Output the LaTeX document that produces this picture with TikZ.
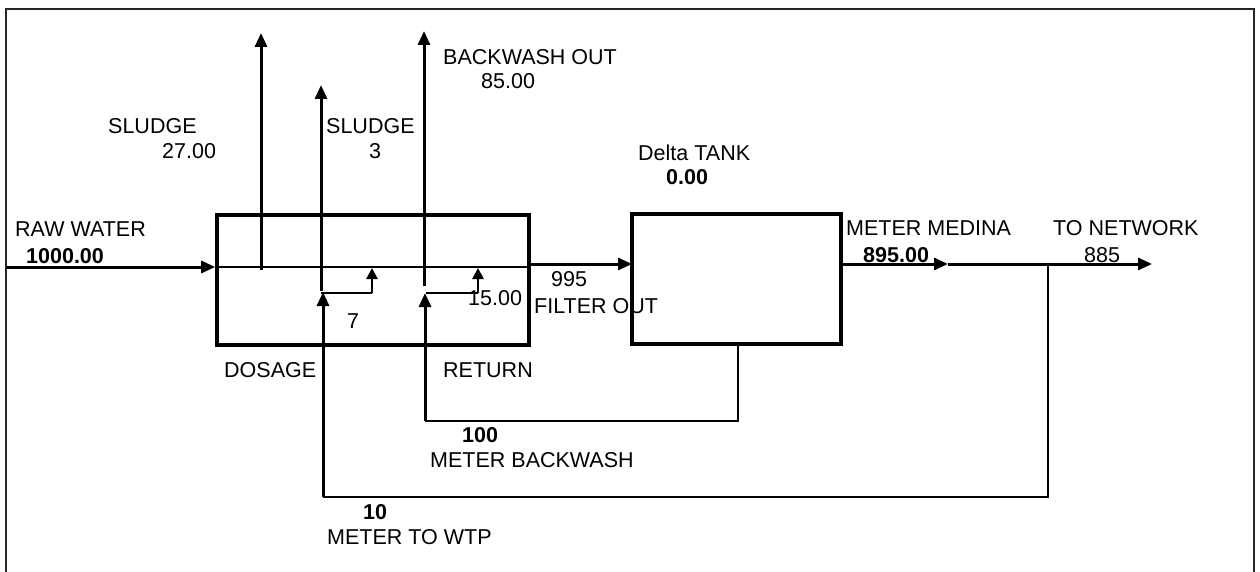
\documentclass[tikz,border=0pt]{standalone}
\usepackage{fontspec}
\setmainfont{Liberation Sans}
\usetikzlibrary{arrows.meta}
\begin{document}
\begin{tikzpicture}[x=1pt,y=-1pt,
  font=\fontsize{21.5}{25}\selectfont,
  lbl/.style={anchor=base west,inner sep=0pt},
  blbl/.style={lbl,font=\fontsize{21.5}{25}\selectfont\bfseries},
  unit/.style={draw,line width=3.6pt,inner sep=0pt},
  flow/.style={line width=3pt,-{Triangle[length=14pt,width=12pt]}},
  thinline/.style={line width=1.6pt},
  small/.style={line width=2.6pt,-{Triangle[length=11pt,width=11pt]}},
  frame/.style={line width=2.2pt,black!85}]
\useasboundingbox (0,0) rectangle (1260,572);
% frame
\draw[frame] (6,572) -- (6,9) -- (1254,9) -- (1254,572);
% units
\node[unit,minimum width=312pt,minimum height=130pt] (b1) at (373,280) {};
\node[unit,minimum width=209pt,minimum height=130pt] (b2) at (736.5,279) {};
% coordinates
\coordinate (rw) at (6,267);
\coordinate (fo1) at (529,264);
\coordinate (fo2) at (632,264);
\coordinate (mm) at (948,264);
\coordinate (tn) at (1152,264);
\coordinate (jn) at (1048,264);
\coordinate (jnb) at (1048,497);
\coordinate (dsb) at (323,497);
\coordinate (dst) at (323,292);
\coordinate (rtb2) at (738,344);
\coordinate (rtc) at (738,421);
\coordinate (rtb) at (425,421);
\coordinate (rtt) at (425,293);
\coordinate (s1b) at (261,270);
\coordinate (s1t) at (261,33);
\coordinate (s2b) at (321,291);
\coordinate (s2t) at (321,85);
\coordinate (bwb) at (424,286);
\coordinate (bwt) at (424,31);
\coordinate (d1) at (321,293);
\coordinate (d2) at (372,293);
\coordinate (d3) at (372,268);
\coordinate (r1) at (426,293);
\coordinate (r2) at (478,293);
\coordinate (r3) at (478,268);
% main flow
\draw[flow] (rw) -- (rw -| b1.west);
\draw[thinline] (rw -| b1.west) -- (rw -| b1.east);
\draw[flow] (fo1) -- (fo2);
\draw[flow] (b2.east |- mm) -- (mm);
\draw[flow] (mm) -- (tn);
% outflows
\draw[flow] (s1b) -- (s1t);
\draw[flow] (s2b) -- (s2t);
\draw[flow] (bwb) -- (bwt);
% dosage loop
\draw[thinline] (jn) -- (jnb) -- (dsb);
\draw[flow] (dsb) -- (dst);
\draw[thinline] (d1) -- (d2);
\draw[small] (d2) -- (d3);
% return loop
\draw[thinline] (rtb2) -- (rtc) -- (rtb);
\draw[flow] (rtb) -- (rtt);
\draw[thinline] (r1) -- (r2);
\draw[small] (r2) -- (r3);
% labels
\node[lbl] (t1) at (15,236) {RAW WATER};
\node[blbl] (t2) at (26,263) {1000.00};
\node[lbl] (t3) at (108,134) {SLUDGE};
\node[lbl] (t4) at (162,159) {27.00};
\node[lbl] (t5) at (326,134) {SLUDGE};
\node[lbl] (t6) at (369,159) {3};
\node[lbl] (t7) at (443,65) {BACKWASH OUT};
\node[lbl] (t8) at (481,89) {85.00};
\node[lbl] (t9) at (638,161) {Delta TANK};
\node[blbl] (t10) at (666,185) {0.00};
\node[lbl] (t11) at (846,235) {METER MEDINA};
\node[blbl] (t12) at (863,262) {895.00};
\node[lbl] (t13) at (1053,235) {TO NETWORK};
\node[lbl] (t14) at (1084,262) {885};
\node[lbl] (t15) at (551,286) {995};
\node[lbl] (t16) at (534,313) {FILTER OUT};
\node[lbl] (t17) at (468,305) {15.00};
\node[lbl] (t18) at (347,328) {7};
\node[lbl] (t19) at (224,377) {DOSAGE};
\node[lbl] (t20) at (443,377) {RETURN};
\node[blbl] (t21) at (462,442) {100};
\node[lbl] (t22) at (430,467) {METER BACKWASH};
\node[blbl] (t23) at (363,519) {10};
\node[lbl] (t24) at (327,544) {METER TO WTP};
\end{tikzpicture}
\end{document}
